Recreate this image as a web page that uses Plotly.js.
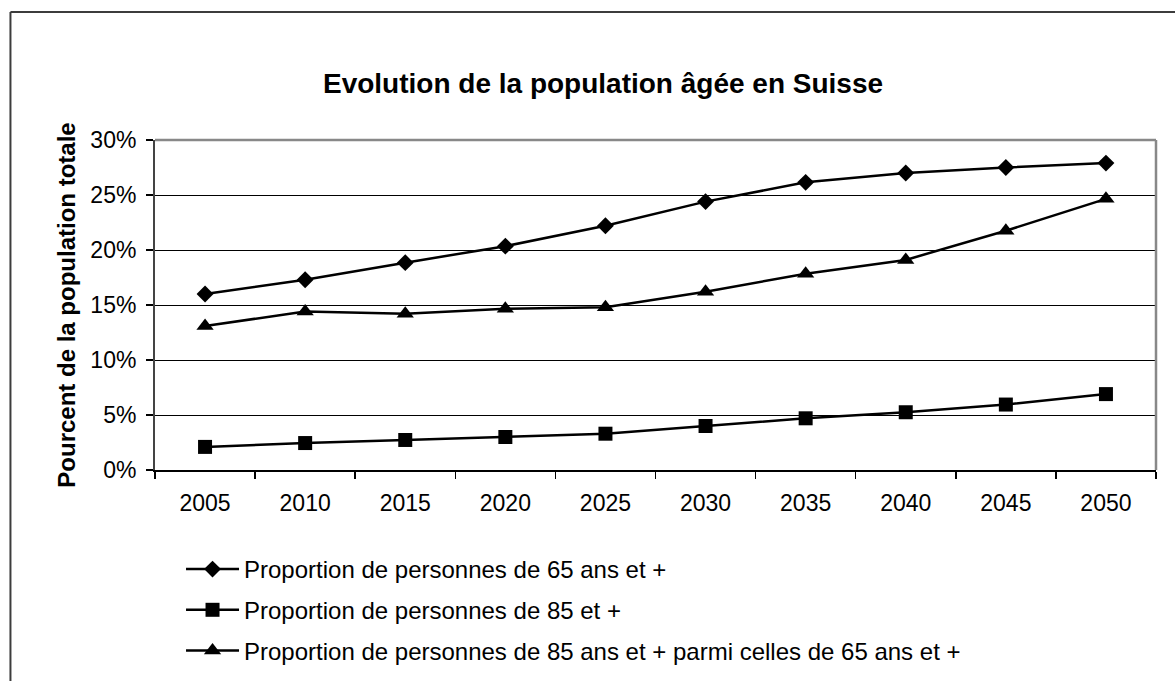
<!DOCTYPE html>
<html>
<head>
<meta charset="utf-8">
<script src="https://cdn.plot.ly/plotly-3.0.1.min.js"></script>
<style>html,body{margin:0;padding:0;background:#fff;}#chart{width:1175px;height:681px;}</style>
</head>
<body>
<div id="chart"></div>
<script>
const years = ['2005','2010','2015','2020','2025','2030','2035','2040','2045','2050'];
const share65plus = [16.0, 17.3, 18.85, 20.35, 22.2, 24.4, 26.15, 27.0, 27.5, 27.9];
const share85plus = [2.1, 2.45, 2.73, 3.0, 3.3, 4.0, 4.7, 5.25, 5.95, 6.9];
const share85among65 = [13.1, 14.4, 14.2, 14.65, 14.8, 16.2, 17.85, 19.1, 21.75, 24.65];
const seriesNames = [
  'Proportion de personnes de 65 ans et +',
  'Proportion de personnes de 85 et +',
  'Proportion de personnes de 85 ans et + parmi celles de 65 ans et +'
];
const yTickValues = [0, 5, 10, 15, 20, 25, 30];
const yTickLabels = ['0%', '5%', '10%', '15%', '20%', '25%', '30%'];

const FONT = 'Liberation Sans, Arial, sans-serif';
const lineStyle = {color: '#000', width: 2.5};

const traces = [
  {x: years, y: share65plus, name: seriesNames[0], legendgroup: 'g1', type: 'scatter', mode: 'lines+markers',
   line: lineStyle, marker: {symbol: 'diamond', size: 13, color: '#000'}},
  {x: years, y: share85plus, name: seriesNames[1], legendgroup: 'g2', type: 'scatter', mode: 'lines+markers',
   line: lineStyle, marker: {symbol: 'square', size: 14, color: '#000'}},
  {x: years, y: share85among65, name: seriesNames[2], legendgroup: 'g3', type: 'scatter', mode: 'lines+markers',
   line: lineStyle, marker: {symbol: 'triangle-up', size: 15, color: '#000'}}
];

const layout = {
  width: 1175, height: 681,
  margin: {l: 155, r: 19, t: 140, b: 211},
  paper_bgcolor: '#fff', plot_bgcolor: '#fff',
  font: {family: FONT, color: '#000', size: 23},
  showlegend: true,
  title: {
    text: '<b>Evolution de la population âgée en Suisse</b>',
    font: {family: FONT, size: 28, color: '#000'},
    x: 0.4476, xref: 'paper', xanchor: 'center',
    y: 1 - 83/681, yref: 'container', yanchor: 'middle'
  },
  xaxis: {
    type: 'category', range: [-0.5, 9.5], fixedrange: true,
    tickson: 'boundaries', ticks: 'outside', ticklen: 7, tickwidth: 1.5, tickcolor: '#000',
    showline: true, linecolor: '#000', linewidth: 1.5,
    showgrid: false, zeroline: false,
    tickfont: {family: FONT, size: 23, color: '#000'},
    ticklabelstandoff: 12
  },
  yaxis: {
    range: [0, 30], tickmode: 'array', tickvals: yTickValues, ticktext: yTickLabels, fixedrange: true,
    ticks: 'outside', ticklen: 7, tickwidth: 1.5, tickcolor: '#000',
    showline: true, linecolor: '#444', linewidth: 2,
    showgrid: true, gridcolor: '#000', gridwidth: 1, zeroline: false,
    tickfont: {family: FONT, size: 23, color: '#000'},
    ticklabelstandoff: 5,
    title: {text: '<b>Pourcent de la population totale</b>', font: {family: FONT, size: 24, color: '#000'}, standoff: 8}
  },
  legend: {
    xref: 'paper', x: 0.026, xanchor: 'left',
    yref: 'container', y: 1 - 547/681, yanchor: 'top',
    orientation: 'v', bgcolor: 'rgba(0,0,0,0)', borderwidth: 0,
    font: {family: FONT, size: 24, color: '#000'},
    tracegroupgap: 6.5, itemwidth: 53
  },
  shapes: [
    {type: 'line', xref: 'paper', yref: 'paper', x0: -0.1444, x1: 1.03, y0: 1.3879, y1: 1.3879, line: {color: '#3c3c3c', width: 2}},
    {type: 'line', xref: 'paper', yref: 'paper', x0: -0.1444, x1: -0.1444, y0: 1.3879, y1: -0.65, line: {color: '#3c3c3c', width: 2}},
    {type: 'line', xref: 'paper', yref: 'paper', x0: 0, x1: 1, y0: 1, y1: 1, line: {color: '#888', width: 2.5}},
    {type: 'line', xref: 'paper', yref: 'paper', x0: 1, x1: 1, y0: 0, y1: 1, line: {color: '#888', width: 2.5}}
  ]
};

Plotly.newPlot('chart', traces, layout, {displayModeBar: false, staticPlot: true});
</script>
</body>
</html>
